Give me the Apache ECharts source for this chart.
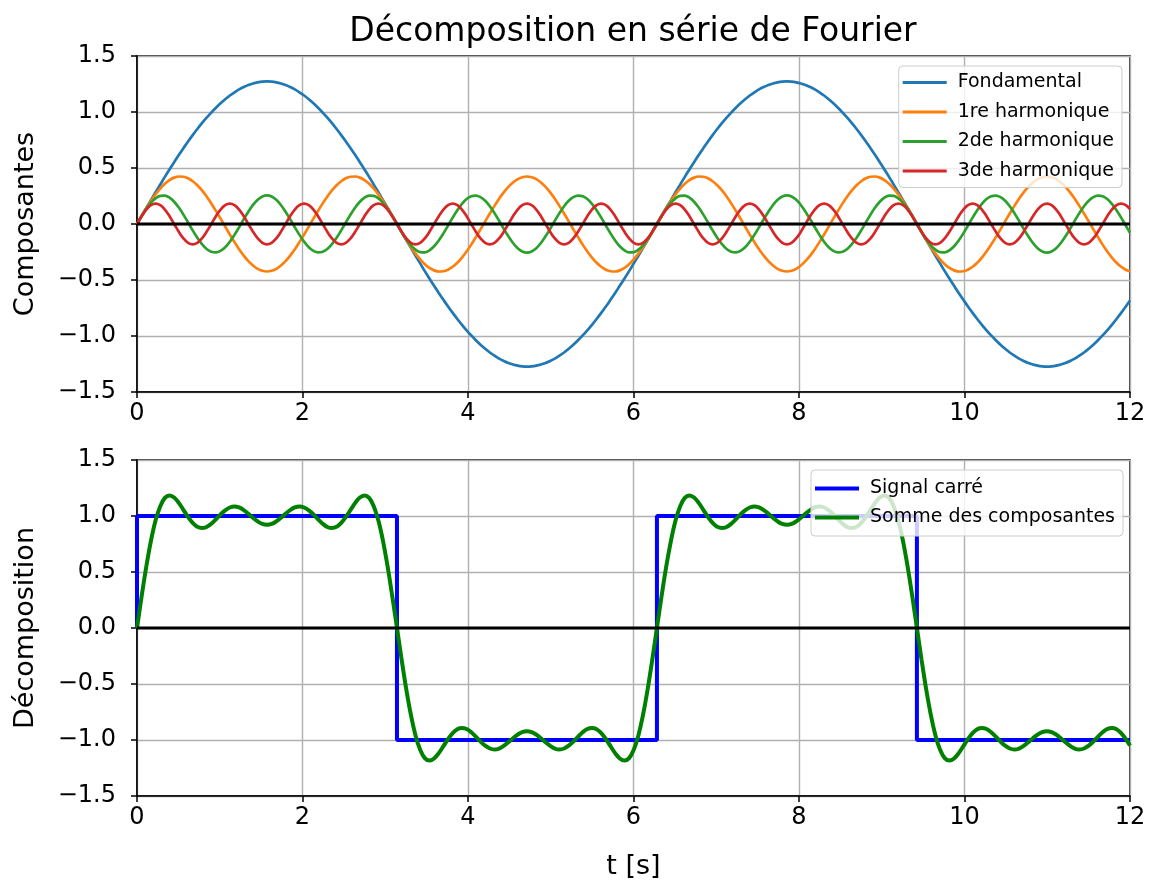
<!DOCTYPE html>
<html>
<head>
<meta charset="utf-8">
<script src="https://cdn.jsdelivr.net/npm/echarts@6/dist/echarts.min.js"></script>
<style>
html,body{margin:0;padding:0;background:#fff;}
#chart{width:1154px;height:881px;}
</style>
</head>
<body>
<div id="chart"></div>
<script>
// sample times (s)
const t = [0,0.056,0.112,0.168,0.224,0.281,0.337,0.393,0.449,0.505,0.561,0.617,0.673,0.729,0.785,0.841,0.898,0.954,1.010,1.066,1.122,1.178,1.234,1.290,1.346,1.402,1.459,1.515,1.571,1.627,1.683,1.739,1.795,1.851,1.907,1.963,2.020,2.076,2.132,2.188,2.244,2.300,2.356,2.412,2.468,2.524,2.581,2.637,2.693,2.749,2.805,2.861,2.917,2.973,3.029,3.085,3.142,
3.198,3.254,3.310,3.366,3.422,3.478,3.534,3.590,3.647,3.703,3.759,3.815,3.871,3.927,3.983,4.039,4.095,4.151,4.208,4.264,4.320,4.376,4.432,4.488,4.544,4.600,4.656,4.712,4.769,4.825,4.881,4.937,4.993,5.049,5.105,5.161,5.217,5.273,5.330,5.386,5.442,5.498,5.554,5.610,5.666,5.722,5.778,5.834,5.891,5.947,6.003,6.059,6.115,6.171,6.227,6.283,
6.339,6.395,6.452,6.508,6.564,6.620,6.676,6.732,6.788,6.844,6.900,6.956,7.012,7.069,7.125,7.181,7.237,7.293,7.349,7.405,7.461,7.517,7.574,7.630,7.686,7.742,7.798,7.854,7.910,7.966,8.022,8.078,8.135,8.191,8.247,8.303,8.359,8.415,8.471,8.527,8.583,8.639,8.696,8.752,8.808,8.864,8.920,8.976,9.032,9.088,9.144,9.200,9.257,9.313,9.369,9.425,
9.481,9.537,9.593,9.649,9.705,9.761,9.818,9.874,9.930,9.986,10.042,10.098,10.154,10.210,10.266,10.322,10.379,10.435,10.491,10.547,10.603,10.659,10.715,10.771,10.827,10.883,10.940,10.996,11.052,11.108,11.164,11.220,11.276,11.332,11.388,11.444,11.501,11.557,11.613,11.669,11.725,11.781,11.837,11.893,11.949,
12];

const fondamental = [0,0.071,0.143,0.213,0.283,0.352,0.421,0.487,0.552,0.616,0.677,0.737,0.794,0.848,0.900,0.949,0.995,1.038,1.078,1.114,1.147,1.176,1.202,1.223,1.241,1.255,1.265,1.271,1.273,1.271,1.265,1.255,1.241,1.223,1.202,1.176,1.147,1.114,1.078,1.038,0.995,0.949,0.900,0.848,0.794,0.737,0.677,0.616,0.552,0.487,0.421,0.352,0.283,0.213,0.143,0.071,0,
-0.071,-0.143,-0.213,-0.283,-0.352,-0.421,-0.487,-0.552,-0.616,-0.677,-0.737,-0.794,-0.848,-0.900,-0.949,-0.995,-1.038,-1.078,-1.114,-1.147,-1.176,-1.202,-1.223,-1.241,-1.255,-1.265,-1.271,-1.273,-1.271,-1.265,-1.255,-1.241,-1.223,-1.202,-1.176,-1.147,-1.114,-1.078,-1.038,-0.995,-0.949,-0.900,-0.848,-0.794,-0.737,-0.677,-0.616,-0.552,-0.487,-0.421,-0.352,-0.283,-0.213,-0.143,-0.071,0,
0.071,0.143,0.213,0.283,0.352,0.421,0.487,0.552,0.616,0.677,0.737,0.794,0.848,0.900,0.949,0.995,1.038,1.078,1.114,1.147,1.176,1.202,1.223,1.241,1.255,1.265,1.271,1.273,1.271,1.265,1.255,1.241,1.223,1.202,1.176,1.147,1.114,1.078,1.038,0.995,0.949,0.900,0.848,0.794,0.737,0.677,0.616,0.552,0.487,0.421,0.352,0.283,0.213,0.143,0.071,0,
-0.071,-0.143,-0.213,-0.283,-0.352,-0.421,-0.487,-0.552,-0.616,-0.677,-0.737,-0.794,-0.848,-0.900,-0.949,-0.995,-1.038,-1.078,-1.114,-1.147,-1.176,-1.202,-1.223,-1.241,-1.255,-1.265,-1.271,-1.273,-1.271,-1.265,-1.255,-1.241,-1.223,-1.202,-1.176,-1.147,-1.114,-1.078,-1.038,-0.995,-0.949,-0.900,-0.848,-0.794,-0.737,
-0.683];

const harmonique1 = [0,0.071,0.140,0.205,0.265,0.316,0.359,0.392,0.414,0.424,0.422,0.408,0.382,0.346,0.300,0.246,0.184,0.117,0.048,-0.024,-0.094,-0.162,-0.226,-0.283,-0.332,-0.371,-0.401,-0.418,-0.424,-0.418,-0.401,-0.371,-0.332,-0.283,-0.226,-0.162,-0.094,-0.024,0.048,0.117,0.184,0.246,0.300,0.346,0.382,0.408,0.422,0.424,0.414,0.392,0.359,0.316,0.265,0.205,0.140,0.071,0,
-0.071,-0.140,-0.205,-0.265,-0.316,-0.359,-0.392,-0.414,-0.424,-0.422,-0.408,-0.382,-0.346,-0.300,-0.246,-0.184,-0.117,-0.048,0.024,0.094,0.162,0.226,0.283,0.332,0.371,0.401,0.418,0.424,0.418,0.401,0.371,0.332,0.283,0.226,0.162,0.094,0.024,-0.048,-0.117,-0.184,-0.246,-0.300,-0.346,-0.382,-0.408,-0.422,-0.424,-0.414,-0.392,-0.359,-0.316,-0.265,-0.205,-0.140,-0.071,0,
0.071,0.140,0.205,0.265,0.316,0.359,0.392,0.414,0.424,0.422,0.408,0.382,0.346,0.300,0.246,0.184,0.117,0.048,-0.024,-0.094,-0.162,-0.226,-0.283,-0.332,-0.371,-0.401,-0.418,-0.424,-0.418,-0.401,-0.371,-0.332,-0.283,-0.226,-0.162,-0.094,-0.024,0.048,0.117,0.184,0.246,0.300,0.346,0.382,0.408,0.422,0.424,0.414,0.392,0.359,0.316,0.265,0.205,0.140,0.071,0,
-0.071,-0.140,-0.205,-0.265,-0.316,-0.359,-0.392,-0.414,-0.424,-0.422,-0.408,-0.382,-0.346,-0.300,-0.246,-0.184,-0.117,-0.048,0.024,0.094,0.162,0.226,0.283,0.332,0.371,0.401,0.418,0.424,0.418,0.401,0.371,0.332,0.283,0.226,0.162,0.094,0.024,-0.048,-0.117,-0.184,-0.246,-0.300,-0.346,-0.382,-0.408,
-0.421];

const harmonique2 = [0,0.071,0.135,0.190,0.229,0.251,0.253,0.235,0.199,0.147,0.084,0.014,-0.057,-0.123,-0.180,-0.223,-0.248,-0.254,-0.240,-0.208,-0.159,-0.097,-0.029,0.043,0.110,0.170,0.216,0.245,0.255,0.245,0.216,0.170,0.110,0.043,-0.029,-0.097,-0.159,-0.208,-0.240,-0.254,-0.248,-0.223,-0.180,-0.123,-0.057,0.014,0.084,0.147,0.199,0.235,0.253,0.251,0.229,0.190,0.135,0.071,0,
-0.071,-0.135,-0.190,-0.229,-0.251,-0.253,-0.235,-0.199,-0.147,-0.084,-0.014,0.057,0.123,0.180,0.223,0.248,0.254,0.240,0.208,0.159,0.097,0.029,-0.043,-0.110,-0.170,-0.216,-0.245,-0.255,-0.245,-0.216,-0.170,-0.110,-0.043,0.029,0.097,0.159,0.208,0.240,0.254,0.248,0.223,0.180,0.123,0.057,-0.014,-0.084,-0.147,-0.199,-0.235,-0.253,-0.251,-0.229,-0.190,-0.135,-0.071,0,
0.071,0.135,0.190,0.229,0.251,0.253,0.235,0.199,0.147,0.084,0.014,-0.057,-0.123,-0.180,-0.223,-0.248,-0.254,-0.240,-0.208,-0.159,-0.097,-0.029,0.043,0.110,0.170,0.216,0.245,0.255,0.245,0.216,0.170,0.110,0.043,-0.029,-0.097,-0.159,-0.208,-0.240,-0.254,-0.248,-0.223,-0.180,-0.123,-0.057,0.014,0.084,0.147,0.199,0.235,0.253,0.251,0.229,0.190,0.135,0.071,0,
-0.071,-0.135,-0.190,-0.229,-0.251,-0.253,-0.235,-0.199,-0.147,-0.084,-0.014,0.057,0.123,0.180,0.223,0.248,0.254,0.240,0.208,0.159,0.097,0.029,-0.043,-0.110,-0.170,-0.216,-0.245,-0.255,-0.245,-0.216,-0.170,-0.110,-0.043,0.029,0.097,0.159,0.208,0.240,0.254,0.248,0.223,0.180,0.123,0.057,-0.014,
-0.078];

const harmonique3 = [0,0.070,0.129,0.168,0.182,0.168,0.129,0.070,0,-0.070,-0.129,-0.168,-0.182,-0.168,-0.129,-0.070,
0,0.070,0.129,0.168,0.182,0.168,0.129,0.070,0,-0.070,-0.129,-0.168,-0.182,-0.168,-0.129,-0.070,
0,0.070,0.129,0.168,0.182,0.168,0.129,0.070,0,-0.070,-0.129,-0.168,-0.182,-0.168,-0.129,-0.070,
0,0.070,0.129,0.168,0.182,0.168,0.129,0.070,0,-0.070,-0.129,-0.168,-0.182,-0.168,-0.129,-0.070,
0,0.070,0.129,0.168,0.182,0.168,0.129,0.070,0,-0.070,-0.129,-0.168,-0.182,-0.168,-0.129,-0.070,
0,0.070,0.129,0.168,0.182,0.168,0.129,0.070,0,-0.070,-0.129,-0.168,-0.182,-0.168,-0.129,-0.070,
0,0.070,0.129,0.168,0.182,0.168,0.129,0.070,0,-0.070,-0.129,-0.168,-0.182,-0.168,-0.129,-0.070,
0,0.070,0.129,0.168,0.182,0.168,0.129,0.070,0,-0.070,-0.129,-0.168,-0.182,-0.168,-0.129,-0.070,
0,0.070,0.129,0.168,0.182,0.168,0.129,0.070,0,-0.070,-0.129,-0.168,-0.182,-0.168,-0.129,-0.070,
0,0.070,0.129,0.168,0.182,0.168,0.129,0.070,0,-0.070,-0.129,-0.168,-0.182,-0.168,-0.129,-0.070,
0,0.070,0.129,0.168,0.182,0.168,0.129,0.070,0,-0.070,-0.129,-0.168,-0.182,-0.168,-0.129,-0.070,
0,0.070,0.129,0.168,0.182,0.168,0.129,0.070,0,-0.070,-0.129,-0.168,-0.182,-0.168,-0.129,-0.070,
0,0.070,0.129,0.168,0.182,0.168,0.129,0.070,0,-0.070,-0.129,-0.168,-0.182,-0.168,-0.129,-0.070,
0,0.070,0.129,0.168,0.182,0.168,
0.133];

const somme = [0,0.283,0.547,0.776,0.959,1.088,1.162,1.184,1.165,1.117,1.055,0.991,0.938,0.903,0.892,0.902,0.931,0.971,1.014,1.051,1.076,1.085,1.076,1.053,1.020,0.984,0.952,0.929,0.922,0.929,0.952,0.984,1.020,1.053,1.076,1.085,1.076,1.051,1.014,0.971,0.931,0.902,0.892,0.903,0.938,0.991,1.055,1.117,1.165,1.184,1.162,1.088,0.959,0.776,0.547,0.283,0,
-0.283,-0.547,-0.776,-0.959,-1.088,-1.162,-1.184,-1.165,-1.117,-1.055,-0.991,-0.938,-0.903,-0.892,-0.902,-0.931,-0.971,-1.014,-1.051,-1.076,-1.085,-1.076,-1.053,-1.020,-0.984,-0.952,-0.929,-0.922,-0.929,-0.952,-0.984,-1.020,-1.053,-1.076,-1.085,-1.076,-1.051,-1.014,-0.971,-0.931,-0.902,-0.892,-0.903,-0.938,-0.991,-1.055,-1.117,-1.165,-1.184,-1.162,-1.088,-0.959,-0.776,-0.547,-0.283,0,
0.283,0.547,0.776,0.959,1.088,1.162,1.184,1.165,1.117,1.055,0.991,0.938,0.903,0.892,0.902,0.931,0.971,1.014,1.051,1.076,1.085,1.076,1.053,1.020,0.984,0.952,0.929,0.922,0.929,0.952,0.984,1.020,1.053,1.076,1.085,1.076,1.051,1.014,0.971,0.931,0.902,0.892,0.903,0.938,0.991,1.055,1.117,1.165,1.184,1.162,1.088,0.959,0.776,0.547,0.283,0,
-0.283,-0.547,-0.776,-0.959,-1.088,-1.162,-1.184,-1.165,-1.117,-1.055,-0.991,-0.938,-0.903,-0.892,-0.902,-0.931,-0.971,-1.014,-1.051,-1.076,-1.085,-1.076,-1.053,-1.020,-0.984,-0.952,-0.929,-0.922,-0.929,-0.952,-0.984,-1.020,-1.053,-1.076,-1.085,-1.076,-1.051,-1.014,-0.971,-0.931,-0.902,-0.892,-0.903,-0.938,-0.991,
-1.049];

const carreT = [0,0,3.1416,3.1416,6.2832,6.2832,9.4248,9.4248,12];
const carreV = [0,1,1,-1,-1,1,1,-1,-1];
const zeroT = [0,12];
const zeroV = [0,0];

const legendHaut = ['Fondamental','1re harmonique','2de harmonique','3de harmonique'];
const legendBas = ['Signal carré','Somme des composantes'];

[fondamental, harmonique1, harmonique2, harmonique3, somme].forEach((a, i) => {
  if (a.length !== t.length) throw new Error('length mismatch ' + i + ': ' + a.length + ' vs ' + t.length);
});

const pair = (xs, ys) => xs.map((x, i) => [x, ys[i]]);
const FONT = 'DejaVu Sans';

function xAx(gi, withName) {
  return {
    gridIndex: gi, type: 'value', min: 0, max: 12, interval: 2,
    axisLine: {show: true, onZero: false, lineStyle: {color: '#000', width: 1.5}},
    axisTick: {show: true, inside: false, length: 6, lineStyle: {color: '#000', width: 1.5}},
    axisLabel: {fontFamily: FONT, fontSize: 24, color: '#000', margin: 10},
    splitLine: {show: true, lineStyle: {color: '#b0b0b0', width: 1.4}},
    name: withName ? 't [s]' : '', nameLocation: 'middle', nameGap: 57,
    nameTextStyle: {fontFamily: FONT, fontSize: 27, color: '#000'}
  };
}
function yAx(gi, name) {
  return {
    gridIndex: gi, type: 'value', min: -1.5, max: 1.5, interval: 0.5,
    axisLine: {show: true, onZero: false, lineStyle: {color: '#000', width: 1.5}},
    axisTick: {show: true, inside: false, length: 6, lineStyle: {color: '#000', width: 1.5}},
    axisLabel: {fontFamily: FONT, fontSize: 24, color: '#000', margin: 21,
      formatter: v => v.toFixed(1).replace('-', '\u2212')},
    splitLine: {show: true, lineStyle: {color: '#b0b0b0', width: 1.4}},
    name: name, nameLocation: 'middle', nameGap: 98,
    nameTextStyle: {fontFamily: FONT, fontSize: 27, color: '#000'}
  };
}
function lineS(name, xs, ys, color, width, gi, smooth) {
  return {
    name: name, type: 'line', xAxisIndex: gi, yAxisIndex: gi,
    data: pair(xs, ys), symbol: 'none', smooth: smooth,
    lineStyle: {color: color, width: width}, itemStyle: {color: color},
    silent: true, z: 3
  };
}

const chart = echarts.init(document.getElementById('chart'), null, {renderer: 'canvas'});
chart.setOption({
  animation: false,
  backgroundColor: '#fff',
  title: {text: 'Décomposition en série de Fourier', left: 628, textAlign: 'center', top: 11,
    textStyle: {fontFamily: FONT, fontSize: 33, fontWeight: 'normal', color: '#000'}},
  grid: [
    {left: 137, right: 24, top: 56, height: 336, show: true, borderColor: '#000', borderWidth: 1.5},
    {left: 137, right: 24, top: 460, height: 336, show: true, borderColor: '#000', borderWidth: 1.5}
  ],
  legend: [
    {data: legendHaut, orient: 'vertical', right: 32, top: 66, icon: 'rect', itemWidth: 44, itemHeight: 3, itemGap: 10.5,
     padding: [7, 8, 7, 4], backgroundColor: 'rgba(255,255,255,0.8)', borderColor: '#cccccc', borderWidth: 1, borderRadius: 4,
     textStyle: {fontFamily: FONT, fontSize: 19, color: '#000', padding: [0, 0, 0, 6]}, selectedMode: false},
    {data: legendBas, orient: 'vertical', right: 31, top: 470, icon: 'rect', itemWidth: 44, itemHeight: 4, itemGap: 10,
     padding: [9, 8, 9, 4], backgroundColor: 'rgba(255,255,255,0.8)', borderColor: '#cccccc', borderWidth: 1, borderRadius: 4,
     textStyle: {fontFamily: FONT, fontSize: 19, color: '#000', padding: [0, 0, 0, 6]}, selectedMode: false}
  ],
  xAxis: [xAx(0, false), xAx(1, true)],
  yAxis: [yAx(0, 'Composantes'), yAx(1, 'Décomposition')],
  series: [
    lineS('Fondamental', t, fondamental, '#1f77b4', 2.7, 0, 0.35),
    lineS('1re harmonique', t, harmonique1, '#ff7f0e', 2.7, 0, 0.35),
    lineS('2de harmonique', t, harmonique2, '#2ca02c', 2.7, 0, 0.35),
    lineS('3de harmonique', t, harmonique3, '#d62728', 2.7, 0, 0.35),
    Object.assign(lineS('zero0', zeroT, zeroV, '#000', 3, 0, false), {z: 4}),
    lineS('Signal carré', carreT, carreV, '#0000ff', 4, 1, false),
    lineS('Somme des composantes', t, somme, '#008000', 4, 1, 0.35),
    Object.assign(lineS('zero1', zeroT, zeroV, '#000', 3, 1, false), {z: 4})
  ]
});
</script>
</body>
</html>
